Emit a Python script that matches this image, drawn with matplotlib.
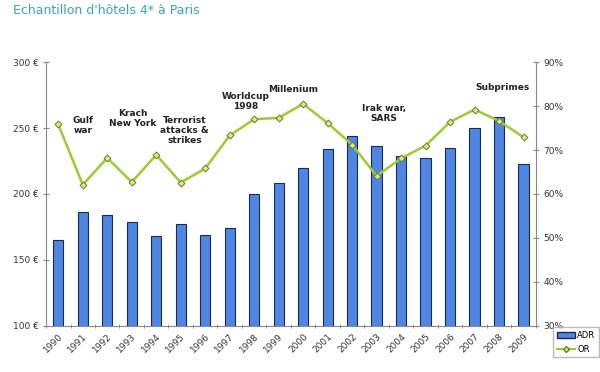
import matplotlib.pyplot as plt
from matplotlib.patches import Patch
from matplotlib.lines import Line2D
import numpy as np

years = [str(y) for y in range(1990, 2010)]
adr = [165, 186, 184, 179, 168, 177, 169, 174, 200, 208,
       220, 234, 244, 236, 229, 227, 235, 250, 258, 223]
occ = [75.8, 62.1, 68.2, 62.7, 68.9, 62.6, 65.8, 73.3, 77.0, 77.3,
       80.5, 76.1, 71.2, 64.1, 68.1, 71.0, 76.4, 79.2, 76.6, 72.9]

events = ["Gulf\nwar", "Krach\nNew York", "Terrorist\nattacks &\nstrikes",
          "Worldcup\n1998", "Millenium", "Irak war,\nSARS", "Subprimes"]
event_x = [1.0, 3.05, 5.15, 7.65, 9.6, 13.3, 18.15]
event_y = [252, 257, 248, 270, 279, 261, 281]

bar_color = '#4f86e3'
line_color = '#9acd32'
axis_gray = '#888888'

fig = plt.figure(figsize=(6, 3.72), dpi=100)
ax = fig.add_axes([0.0767, 0.1237, 0.8163, 0.7096])
x = np.arange(len(years))

ax.bar(x, adr, width=0.42, color=bar_color, edgecolor='#1a2a50', linewidth=0.8, zorder=2)
ax.set_xlim(-0.5, len(years) - 0.5)
ax.set_ylim(100, 300)
ax.set_yticks([100, 150, 200, 250, 300])
ax.set_yticklabels([f'{v} €' for v in [100, 150, 200, 250, 300]])
ax.set_xticks(x)
ax.set_xticklabels(years, rotation=45, ha='right', rotation_mode='anchor')
ax.set_xticks(np.arange(-0.5, len(years), 1), minor=True)
ax.tick_params(axis='x', which='major', length=0, labelsize=6.5, pad=4, colors='#333333')
ax.tick_params(axis='x', which='minor', length=3, direction='inout', color=axis_gray)
ax.tick_params(axis='y', labelsize=6.5, length=4, direction='inout', color=axis_gray, colors='#333333')
for s in ['top', 'right']:
    ax.spines[s].set_visible(False)
for s in ['left', 'bottom']:
    ax.spines[s].set_color(axis_gray)

for lab, ex, ey in zip(events, event_x, event_y):
    ax.text(ex, ey, lab, ha='center', va='center', fontsize=6.5,
            fontweight='bold', color='#222222', linespacing=1.1, zorder=4)

ax2 = ax.twinx()
ax2.plot(x, occ, color=line_color, linewidth=1.8, marker='D', markersize=3.5,
         markerfacecolor='#d8e890', markeredgecolor='#6b7d20', markeredgewidth=0.7, zorder=3)
ax2.set_ylim(30, 90)
ax2.set_yticks(range(30, 91, 10))
ax2.set_yticklabels([f'{v}%' for v in range(30, 91, 10)])
ax2.tick_params(axis='y', labelsize=6.5, length=4, direction='inout', color=axis_gray, colors='#333333')
for s in ['top', 'left', 'bottom']:
    ax2.spines[s].set_visible(False)
ax2.spines['right'].set_color(axis_gray)

handles = [Patch(facecolor=bar_color, edgecolor='#1a2a50', label='ADR'),
           Line2D([0], [0], color=line_color, marker='D', markersize=3,
                  markerfacecolor='#d8e890', markeredgecolor='#6b7d20', label='OR')]
fig.legend(handles=handles, loc='upper left', bbox_to_anchor=(0.922, 0.12),
           fontsize=6, frameon=True, fancybox=False, edgecolor='#aaaaaa',
           handlelength=2.2, handletextpad=0.3, borderpad=0.4, labelspacing=0.6,
           borderaxespad=0)

fig.text(0.022, 0.972, "Echantillon d'hôtels 4* à Paris", fontsize=9,
         color='#3aa6b9', ha='left', va='center')

fig.savefig('out.png', dpi=100)
